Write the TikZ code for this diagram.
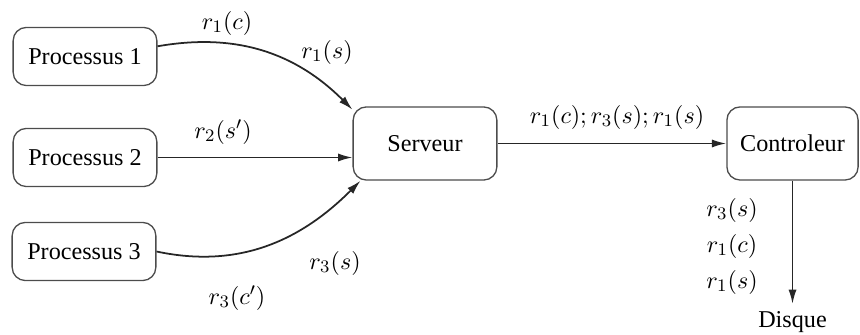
\documentclass[tikz,border=0pt]{standalone}
\usepackage{fontspec}
\setmainfont{Liberation Serif}
\usetikzlibrary{arrows.meta}
\tikzset{%
  block/.style    = {draw=black!70, semithick, rectangle, rounded corners=6pt,
    minimum width = 2.3cm, minimum height = 0.93cm},
  bigblock/.style = {block, minimum height = 1.17cm}, % Serveur, Controleur
  lbl/.style      = {inner sep=1pt} % message labels
}
\begin{document}
\begin{tikzpicture}[x=0.016cm, y=-0.016cm, thick, draw=black!85,
    >={Latex[length=2.3mm,width=1.3mm]}, font=\fontsize{11}{13}\selectfont]
\useasboundingbox (0,0) rectangle (860,335);
\draw
    node at (85,56.5)[block,name=proc1]{Processus 1}
    node at (85,157.5)[block,name=proc2]{Processus 2}
    node at (84,251.5)[block,name=proc3]{Processus 3}

    node at (425,143.5)[bigblock,name=serv]{Serveur}
    node at (792.5,143.5)[bigblock,minimum width=2.1cm,name=ctrl]{Controleur}

    node at (792.5,322)[inner sep=3pt,name=disk]{Disque}
;

    \draw[->](proc1.8) to[out=10,in=135] (serv.155);
    \draw[->](proc2) -- (proc2 -| serv.west);
    \draw[->](proc3.east) to[out=-12,in=-135] (serv.210);

    \draw[->](serv) -- (ctrl);
    \draw[->](ctrl) -- (disk);

    % labels
    \node[lbl] (m1c) at (227,23) {$r_1(c)$};
    \node[lbl] (m1s) at (327,52) {$r_1(s)$};
    \node[lbl] (m2s) at (223,132) {$r_2(s')$};
    \node[lbl] (m3s) at (335,263) {$r_3(s)$};
    \node[lbl] (m3c) at (237,298) {$r_3(c')$};
    \node[lbl] (seq) at (617,117) {$r_1(c);r_3(s);r_1(s)$};
    \node[lbl] (d3s) at (732,210) {$r_3(s)$};
    \node[lbl] (d1c) at (732,246) {$r_1(c)$};
    \node[lbl] (d1s) at (732,282) {$r_1(s)$};
\end{tikzpicture}
\end{document}
